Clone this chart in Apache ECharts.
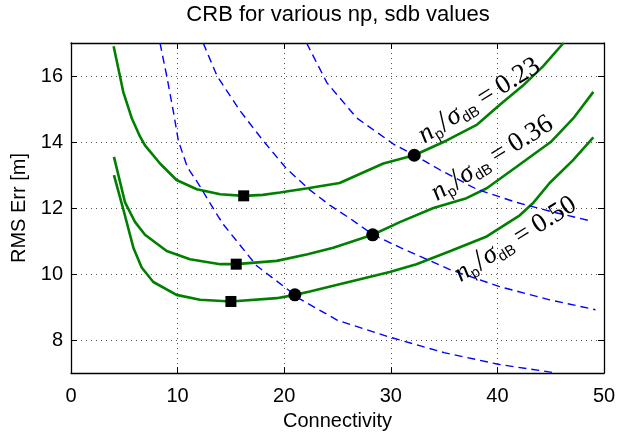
<!DOCTYPE html>
<html><head><meta charset="utf-8">
<script src="https://cdn.jsdelivr.net/npm/echarts@6/dist/echarts.min.js"></script>
<style>html,body{margin:0;padding:0;background:#fff}#c{width:629px;height:436px}</style>
</head><body><div id="c"></div>
<script>
// ---- data ----
const xTicks = [0, 10, 20, 30, 40, 50];
const yTicks = [8, 10, 12, 14, 16];
const crb023 = [[4.0,16.9],[4.9,15.52],[5.69,14.73],[6.47,14.17],[6.94,13.9],[8.35,13.35],[9.9,12.85],[11.8,12.57],[14,12.42],[16.2,12.37],[18,12.4],[19.6,12.47],[22.2,12.6],[25.2,12.76],[29.3,13.35],[32.2,13.6],[35.2,14.04],[38.1,14.53],[40.2,15.12],[42.4,15.71],[44.3,16.3],[46.2,17.0]];
const crb036 = [[4.03,13.55],[5.07,12.17],[6.0,11.58],[6.94,11.19],[8.98,10.7],[11.16,10.45],[14,10.3],[15.5,10.3],[19.3,10.4],[22.2,10.6],[24.6,10.8],[28.3,11.19],[30.9,11.58],[34,12.0],[37.1,12.3],[39,12.6],[41.8,13.25],[45,14.0],[47.2,14.75],[49,15.52]];
const crb050 = [[4.03,13.0],[4.9,11.97],[5.85,10.8],[6.63,10.2],[7.72,9.76],[9.9,9.37],[12.1,9.22],[15.0,9.17],[19.3,9.27],[21.0,9.37],[22.4,9.47],[29.9,10.06],[32.4,10.3],[35.6,10.7],[39,11.14],[42.1,11.78],[43.4,12.17],[44.9,12.76],[47.1,13.45],[49,14.14]];
const dash1 = [[8.35,17],[8.98,16.0],[9.6,14.93],[10.07,14.04],[10.85,13.3],[11.16,13.12],[12.1,12.66],[12.9,12.22],[13.8,11.75],[14.3,11.5],[17.42,10.25],[21.0,9.37],[21.5,9.24],[25,8.6],[29.9,8.09],[35,7.62],[40.2,7.26],[45.6,7.0]];
const dash2 = [[12.4,17.0],[13.7,16.0],[15.85,14.95],[18.0,14.05],[20.2,13.2],[22.4,12.55],[24.3,12.08],[26.2,11.68],[28.3,11.2],[30.9,10.8],[35.6,10.13],[40.2,9.62],[44.9,9.22],[49.2,8.92]];
const dash3 = [[22.1,17],[24.0,15.8],[26.8,14.73],[30.24,13.94],[32.2,13.6],[34.6,13.16],[38.06,12.57],[41.8,12.17],[45.2,11.88],[48.5,11.63]];
const minPoints = [[16.2,12.37],[15.5,10.3],[15.0,9.17]];
const crossPoints = [[32.2,13.6],[28.3,11.19],[21.0,9.37]];
const labelValues = ['0.23', '0.36', '0.50'];
const labelX = [38.3, 39.5, 41.7];
const labelY = [15.25, 13.5, 11.05];

// ---- chart ----
const chart = echarts.init(document.getElementById('c'), null, {renderer: 'canvas'});
const FONT = 'Liberation Sans';
const gridLine = {show: true, lineStyle: {color: '#555', width: 1, type: [1, 4]}};
const axLine = {show: true, onZero: false, lineStyle: {color: '#000', width: 1.3}};
const tick = {show: true, inside: true, length: 6, lineStyle: {color: '#000', width: 1}};

function lineSeries(data, color, width, type) {
  return {type: 'line', data: data, symbol: 'none', smooth: false, silent: true,
    lineStyle: {color: color, width: width, type: type}, z: 2};
}

const option = {
  animation: false,
  backgroundColor: '#fff',
  grid: {left: 71, right: 25, top: 43, bottom: 54, containLabel: false},
  xAxis: [{
    type: 'value', min: 0, max: 50, interval: 10, position: 'bottom',
    name: 'Connectivity', nameLocation: 'middle', nameGap: 31,
    nameTextStyle: {fontFamily: FONT, fontSize: 20, color: '#000'},
    axisLine: axLine, axisTick: tick, splitLine: gridLine,
    axisLabel: {fontFamily: FONT, fontSize: 20, color: '#000', margin: 13}
  }, {
    type: 'value', min: 0, max: 50, interval: 10, position: 'top',
    axisLine: axLine, axisTick: tick, splitLine: {show: false}, axisLabel: {show: false}
  }],
  yAxis: [{
    type: 'value', min: 7, max: 17, position: 'left',
    name: 'RMS Err [m]', nameLocation: 'middle', nameGap: 38,
    nameTextStyle: {fontFamily: FONT, fontSize: 20, color: '#000'},
    axisLine: axLine,
    axisTick: Object.assign({}, tick, {customValues: yTicks}),
    splitLine: gridLine,
    axisLabel: {fontFamily: FONT, fontSize: 20, color: '#000', margin: 8, customValues: yTicks}
  }, {
    type: 'value', min: 7, max: 17, position: 'right',
    axisLine: axLine,
    axisTick: Object.assign({}, tick, {customValues: yTicks}),
    splitLine: {show: false}, axisLabel: {show: false, customValues: yTicks}
  }],
  series: [
    lineSeries(crb023, '#008000', 2.6, 'solid'),
    lineSeries(crb036, '#008000', 2.6, 'solid'),
    lineSeries(crb050, '#008000', 2.6, 'solid'),
    lineSeries(dash1, '#0000ff', 1.4, [8, 5]),
    lineSeries(dash2, '#0000ff', 1.4, [8, 5]),
    lineSeries(dash3, '#0000ff', 1.4, [8, 5]),
    {type: 'scatter', data: minPoints, symbol: 'rect', symbolSize: 11, itemStyle: {color: '#000', opacity: 1}, z: 5, silent: true},
    {type: 'scatter', data: crossPoints, symbol: 'circle', symbolSize: 13, itemStyle: {color: '#000', opacity: 1}, z: 5, silent: true}
  ]
};
chart.setOption(option);

const SERIF = 'Liberation Serif';
const rich = {
  n: {fontFamily: SERIF, fontStyle: 'italic', fontSize: 27, lineHeight: 30, verticalAlign: 'middle', color: '#000'},
  sl: {fontFamily: SERIF, fontSize: 31, lineHeight: 30, verticalAlign: 'middle', color: '#000', padding: [0, 1, 0, 1]},
  sub: {fontFamily: FONT, fontSize: 15, lineHeight: 9, verticalAlign: 'bottom', color: '#000'},
  eq: {fontFamily: SERIF, fontSize: 27, lineHeight: 30, verticalAlign: 'middle', color: '#000', padding: [0, 6, 0, 6]},
  e: {fontFamily: SERIF, fontSize: 27, lineHeight: 30, verticalAlign: 'middle', color: '#000'}
};
const graphics = labelValues.map(function (v, i) {
  const p = chart.convertToPixel({gridIndex: 0}, [labelX[i], labelY[i]]);
  return {
    type: 'text', x: p[0], y: p[1], rotation: 32 * Math.PI / 180, z: 10,
    style: {
      text: '{n|n}{sub|p}{sl|/}{n|σ}{sub|dB}{eq|=}{e|' + v + '}',
      rich: rich, align: 'center', verticalAlign: 'middle', fill: '#000'
    }
  };
});
graphics.push({
  type: 'text', x: 338, y: 15, z: 10,
  style: {text: 'CRB for various np, sdb values', fontFamily: FONT, fontSize: 22, fill: '#000', align: 'center', verticalAlign: 'middle'}
});
chart.setOption({graphic: graphics});
</script>
</body></html>
